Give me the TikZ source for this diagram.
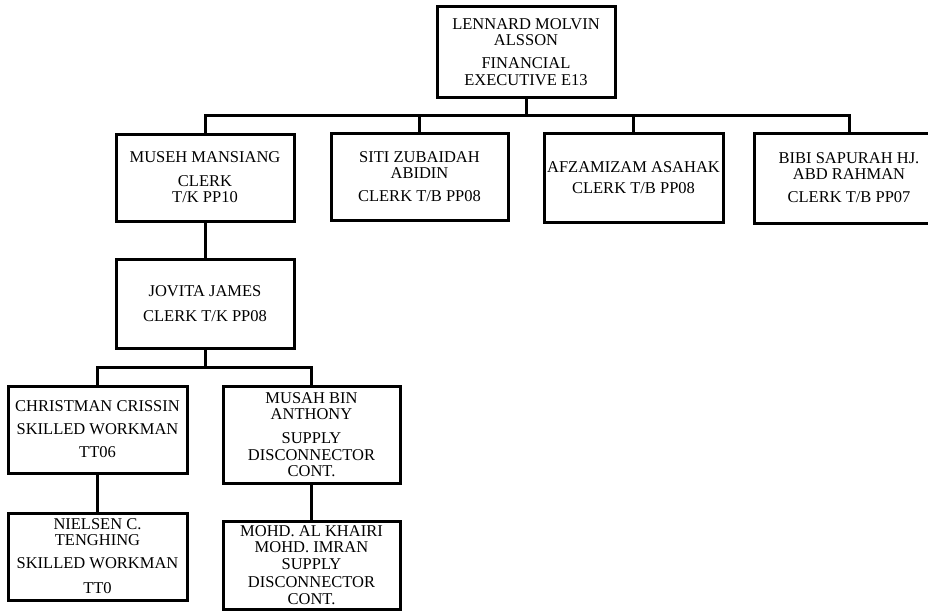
\documentclass[tikz,border=0pt]{standalone}
\usepackage{fontspec}
\setmainfont{Liberation Serif}
\newcommand{\boxfont}{\fontsize{16.5}{16}\selectfont}
\tikzset{
  staffbox/.style={draw, line width=3pt, rectangle, inner sep=0pt,
    align=center, font=\boxfont, minimum width=178pt, minimum height=88pt},
  link/.style={line width=3pt}
}
\begin{document}
\begin{tikzpicture}[x=1pt, y=-1pt]
\useasboundingbox (0,0) rectangle (928,610);
\clip (0,0) rectangle (928,610);
\fill[white] (0,0) rectangle (928,610);

% head of section
\node[staffbox, minimum height=90pt] (top) at (526,52)
  {LENNARD MOLVIN\\ALSSON\\[7pt]FINANCIAL\\[1pt]EXECUTIVE E13};

% clerks
\node[staffbox, minimum height=87pt] (museh) at (205,177.5)
  {MUSEH MANSIANG\\[8pt]CLERK\\T/K PP10};
\node[staffbox, minimum width=177pt, minimum height=87pt] (siti) at (419.5,176.5)
  {SITI ZUBAIDAH\\ABIDIN\\[7pt]CLERK T/B PP08};
\node[staffbox, minimum width=179pt, minimum height=89pt] (afz) at (633.5,177.5)
  {AFZAMIZAM ASAHAK\\[5pt]CLERK T/B PP08};
\node[staffbox, minimum width=190pt, minimum height=90pt] (bibi) at (849,178)
  {BIBI SAPURAH HJ.\\ABD RAHMAN\\[7pt]CLERK T/B PP07};

\node[staffbox, minimum height=89pt] (jovita) at (205,303.5)
  {JOVITA JAMES\\[9pt]CLERK T/K PP08};

% workmen and supply staff
\node[staffbox, minimum width=179pt, minimum height=87pt] (christman) at (97.5,429.5)
  {CHRISTMAN CRISSIN\\[7pt]SKILLED WORKMAN\\[7pt]TT06};
\node[staffbox, minimum width=177pt, minimum height=97pt] (musah) at (311.5,434.5)
  {MUSAH BIN\\ANTHONY\\[8pt]SUPPLY\\[1pt]DISCONNECTOR\\CONT.};
\node[staffbox, minimum width=179pt, minimum height=87pt] (nielsen) at (97.5,556.5)
  {NIELSEN C.\\TENGHING\\[7pt]SKILLED WORKMAN\\[9pt]TT0};
\node[staffbox, minimum width=177pt, minimum height=88pt] (mohd) at (311.5,565)
  {MOHD. AL KHAIRI\\MOHD. IMRAN\\[1pt]SUPPLY\\[2pt]DISCONNECTOR\\[1pt]CONT.};

% connectors
\coordinate (busA) at (0,115);
\coordinate (busB) at (0,367);
\draw[link] (top.south) -- (top.south |- busA);
\draw[link] (museh.north) -- (museh.north |- busA) -- (bibi.north |- busA) -- (bibi.north);
\draw[link] (siti.north) -- (siti.north |- busA);
\draw[link] (afz.north) -- (afz.north |- busA);
\draw[link] (museh.south) -- (jovita.north);
\draw[link] (jovita.south) -- (jovita.south |- busB);
\draw[link] (christman.north) -- (christman.north |- busB) -- (musah.north |- busB) -- (musah.north);
\draw[link] (christman.south) -- (nielsen.north);
\draw[link] (musah.south) -- (mohd.north);
\end{tikzpicture}
\end{document}
